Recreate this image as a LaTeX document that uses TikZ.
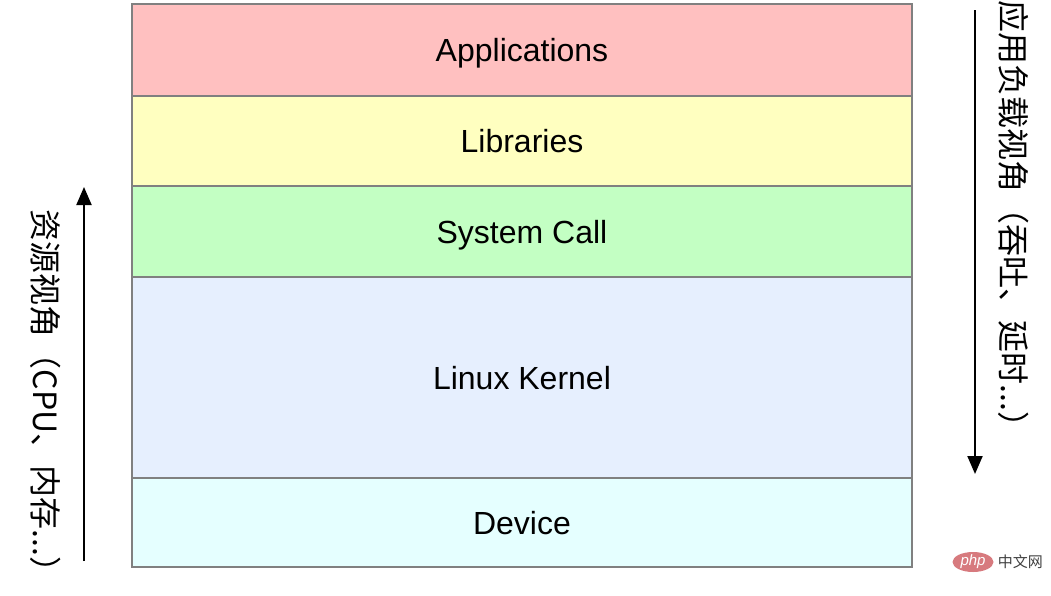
\documentclass[tikz,border=0pt]{standalone}
\usepackage{fontspec}
\setmainfont{Liberation Sans}
\newfontfamily\cjk{Noto Sans CJK SC}
\usetikzlibrary{positioning, arrows.meta, shapes.geometric}
\definecolor{appred}{HTML}{FFC0C0}
\definecolor{libyellow}{HTML}{FFFFC0}
\definecolor{sysgreen}{HTML}{C3FFC3}
\definecolor{kernblue}{HTML}{E6EFFE}
\definecolor{devcyan}{HTML}{E5FFFF}
\definecolor{phpred}{HTML}{D77A7E}

\begin{document}
\begin{tikzpicture}[x=1pt, y=-1pt,
    layer/.style={draw=gray, line width=2pt, minimum width=780pt, inner sep=0pt,
                  text height=23pt, text depth=0pt, font=\fontsize{32}{38}\selectfont},
    side/.style={rotate=-90, inner sep=0pt, font=\cjk\fontsize{32}{38}\selectfont},
    view/.style={line width=2pt, -{Triangle[length=18pt,width=15pt]}}]
		      \useasboundingbox (0,0) rectangle (1051,595);
		      \node[layer, fill=appred, minimum height=92pt] (app) at (522, 50) {Applications};
		      \node[layer, fill=libyellow, minimum height=90pt] (lib) at (522, 141) {Libraries};
		      \node[layer, fill=sysgreen, minimum height=91pt] (sys) at (522, 231.5) {System Call};
		      \node[layer, fill=kernblue, minimum height=201pt] (kern) at (522, 377.5) {Linux Kernel};
		      \node[layer, fill=devcyan, minimum height=89pt] (dev) at (522, 522.5) {Device};

		      \coordinate (r0) at (84, 561);
		      \coordinate (r1) at (84, 187);
		      \draw[view] (r0) -- (r1);
		      \node[side] (res) at (46, 399) {资源视角（CPU、内存...）};

		      \coordinate (w0) at (975, 10);
		      \coordinate (w1) at (975, 474);
		      \draw[view] (w0) -- (w1);
		      \node[side] (load) at (1014, 222) {应用负载视角（吞吐、延时...）};

		      \node[ellipse, fill=phpred, inner sep=0pt, minimum width=41pt, minimum height=20pt,
		            text=white, font=\itshape\fontsize{15}{15}\selectfont] (php) at (973, 562) {php};
		      \node[right=4pt of php, inner sep=0pt, text=darkgray, font=\cjk\fontsize{15}{15}\selectfont] (site) {中文网};
	      \end{tikzpicture}
\end{document}
